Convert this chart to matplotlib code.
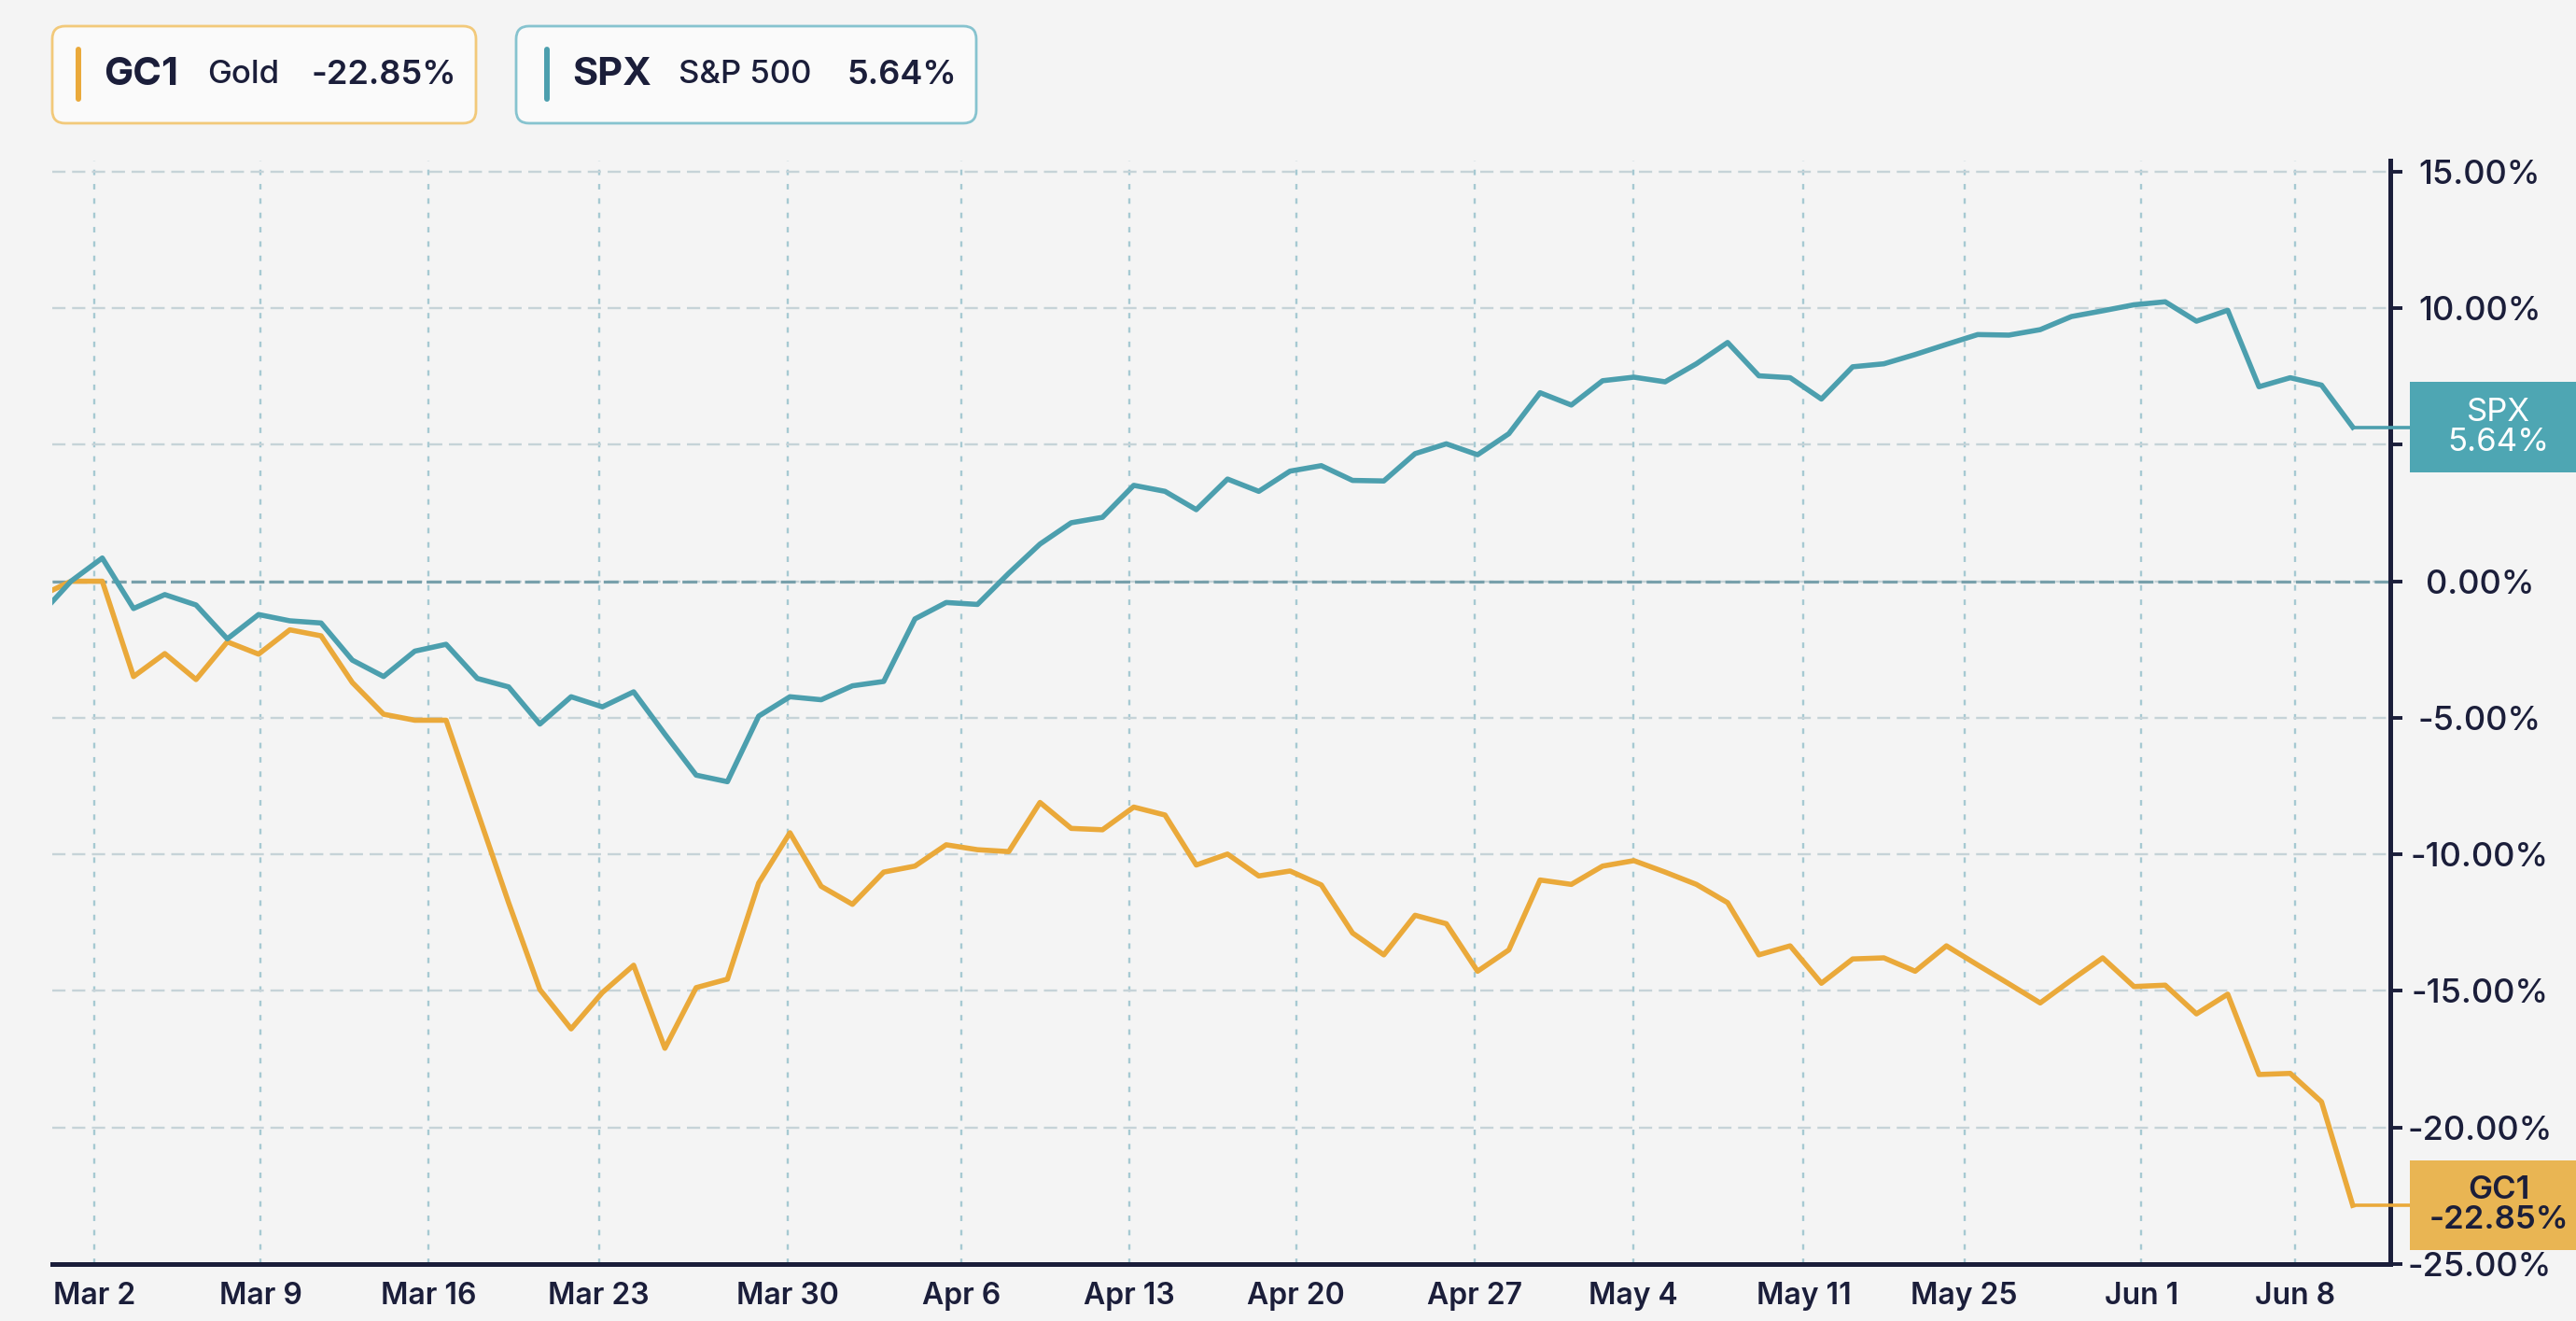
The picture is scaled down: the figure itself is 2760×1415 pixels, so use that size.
import numpy as np
import matplotlib.pyplot as plt
from matplotlib.patches import FancyBboxPatch, Rectangle
from matplotlib.lines import Line2D
from matplotlib.ticker import FuncFormatter
from matplotlib import transforms

# daily % change since the start, first value sits just left of the plot edge
gold = [-0.55, 0.0, 0.0, -3.49, -2.65, -3.60, -2.22, -2.67, -1.78, -2.00, -3.71,
        -4.87, -5.09, -5.09, -8.43, -11.77, -14.95, -16.39, -15.06, -14.06, -17.10,
        -14.88, -14.57, -11.05, -9.21, -11.17, -11.83, -10.65, -10.43, -9.65, -9.83,
        -9.90, -8.10, -9.05, -9.10, -8.27, -8.56, -10.39, -9.99, -10.79, -10.61,
        -11.12, -12.88, -13.68, -12.23, -12.54, -14.28, -13.50, -10.94, -11.10, -10.43,
        -10.23, -10.65, -11.10, -11.77, -13.68, -13.35, -14.72, -13.83, -13.79, -14.28,
        -13.35, -14.05, -14.74, -15.44, -14.60, -13.79, -14.84, -14.79, -15.84, -15.12,
        -18.06, -18.02, -19.06, -22.85]
spx = [-1.25, 0.0, 0.85, -1.0, -0.49, -0.87, -2.11, -1.22, -1.45, -1.53, -2.89,
       -3.49, -2.56, -2.31, -3.56, -3.87, -5.23, -4.23, -4.60, -4.05, -5.6,
       -7.10, -7.34, -4.94, -4.23, -4.34, -3.83, -3.67, -1.38, -0.78, -0.85,
       0.29, 1.36, 2.14, 2.34, 3.51, 3.29, 2.62, 3.74, 3.29, 4.03,
       4.23, 3.69, 3.67, 4.67, 5.03, 4.63, 5.40, 6.90, 6.45, 7.34,
       7.47, 7.30, 7.96, 8.74, 7.52, 7.45, 6.67, 7.85, 7.96, 8.3,
       8.67, 9.03, 9.01, 9.21, 9.69, 9.90, 10.12, 10.23, 9.52, 9.92,
       7.12, 7.45, 7.18, 5.64]
tick_labels = ["Mar 2", "Mar 9", "Mar 16", "Mar 23", "Mar 30", "Apr 6", "Apr 13",
               "Apr 20", "Apr 27", "May 4", "May 11", "May 25", "Jun 1", "Jun 8"]
y_ticks = [-25, -20, -15, -10, -5, 0, 5, 10, 15]

# where the week labels fall on the bar index
tick_pos = [0.74, 6.06, 11.43, 16.89, 22.94, 28.48, 33.85, 39.2, 44.91, 49.97,
            55.43, 60.57, 66.24, 71.15]

plt.rcParams['font.family'] = ['Inter', 'DejaVu Sans']
navy = '#1b1e3a'
gold_c = '#eaa93a'
spx_c = '#4c9fae'
bg = '#f4f4f4'

x = np.arange(len(gold)) - 1

fig = plt.figure(figsize=(27.6, 14.15), dpi=100, facecolor=bg)
ax = fig.add_axes([56 / 2760, 61 / 1415, 2505 / 2760, 1182 / 1415])
ax.set_facecolor(bg)

ax.plot(x, gold, color=gold_c, lw=4.0, zorder=4)
ax.plot(x, spx, color=spx_c, lw=4.0, zorder=4)

xlim = (-0.6, 74.2)
ax.set_xlim(xlim)
ax.set_ylim(-25, 15.4)

# grid
ax.set_xticks(tick_pos)
ax.set_xticklabels(tick_labels)
ax.set_yticks(y_ticks)
ax.grid(axis='x', color='#a6c9d2', lw=1.7, ls=(0, (2.5, 4)))
ax.grid(axis='y', color='#c6d3d8', lw=1.7, ls=(0, (6, 3)))
ax.axhline(0, color='#78a0ab', lw=2.3, ls=(0, (5, 1.6)), zorder=2)
ax.set_axisbelow(True)

for s in ['left', 'top']:
    ax.spines[s].set_visible(False)
for s in ['right', 'bottom']:
    ax.spines[s].set_color(navy)
    ax.spines[s].set_linewidth(3.6)

# the 5% label sits under the SPX tag, as in the original
ax.yaxis.tick_right()
ax.yaxis.set_major_formatter(FuncFormatter(lambda v, p: "" if v == 5 else f"{v:.2f}%"))
ax.tick_params(axis='y', length=9, width=2.8, color=navy, pad=60,
               labelsize=26, labelcolor=navy)
ax.tick_params(axis='x', length=0, pad=14, labelsize=23, labelcolor=navy)
for t in ax.get_yticklabels():
    t.set_ha('center')
    t.set_fontweight('medium')
for t in ax.get_xticklabels():
    t.set_fontweight('semibold')

# last-value tags on the right axis
trans = transforms.blended_transform_factory(ax.transAxes, ax.transData)
box_h = 3.3
x_tag = xlim[0] + 1.0084 * (xlim[1] - xlim[0])
for vals, col, lcol, name, tcol, wt in [(spx, '#4ea6b3', spx_c, 'SPX', 'white', 'normal'),
                                        (gold, '#e9b553', gold_c, 'GC1', navy, 'semibold')]:
    last = vals[-1]
    ax.plot([x[-1], x_tag], [last, last], color=lcol, lw=2.6, clip_on=False, zorder=4)
    ax.add_patch(Rectangle((1.0084, last - box_h / 2), 0.09, box_h, transform=trans,
                           clip_on=False, facecolor=col, edgecolor='none', zorder=5))
    ax.text(1.0463, last, f"{name}\n{last:.2f}%", transform=trans, ha='center',
            va='center', color=tcol, fontsize=25, fontweight=wt, linespacing=1.0,
            zorder=6)

# legend chips at the top
asp = 2760 / 1415
chips = [(56, 454, '#f2c97a', gold_c, 'GC1', 'Gold', f"{gold[-1]:.2f}%", 84, 111, 222, 333),
         (553, 493, '#86c3cf', spx_c, 'SPX', 'S&P 500', f"{spx[-1]:.2f}%", 586, 613, 727, 908)]
for x0, w, edge, col, sym, desc, chg, bx, sx, dx, cx in chips:
    fig.patches.append(FancyBboxPatch((x0 / 2760, 1 - 132 / 1415), w / 2760, 104 / 1415,
                                      boxstyle="round,pad=0,rounding_size=0.005",
                                      mutation_aspect=asp, transform=fig.transFigure,
                                      facecolor='#fafafa', edgecolor=edge, lw=2))
    fig.add_artist(Line2D([bx / 2760, bx / 2760], [1 - 106 / 1415, 1 - 53 / 1415],
                          color=col, lw=4.3, solid_capstyle='round',
                          transform=fig.transFigure))
    yc = 1 - 80 / 1415
    fig.text(sx / 2760, yc, sym, fontsize=30, fontweight='bold', color=navy, va='center')
    fig.text(dx / 2760, yc, desc, fontsize=25, fontweight='medium', color=navy, va='center')
    fig.text(cx / 2760, yc, chg, fontsize=26, fontweight='semibold', color=navy, va='center')

plt.savefig("out.png", dpi=100, facecolor=bg)
